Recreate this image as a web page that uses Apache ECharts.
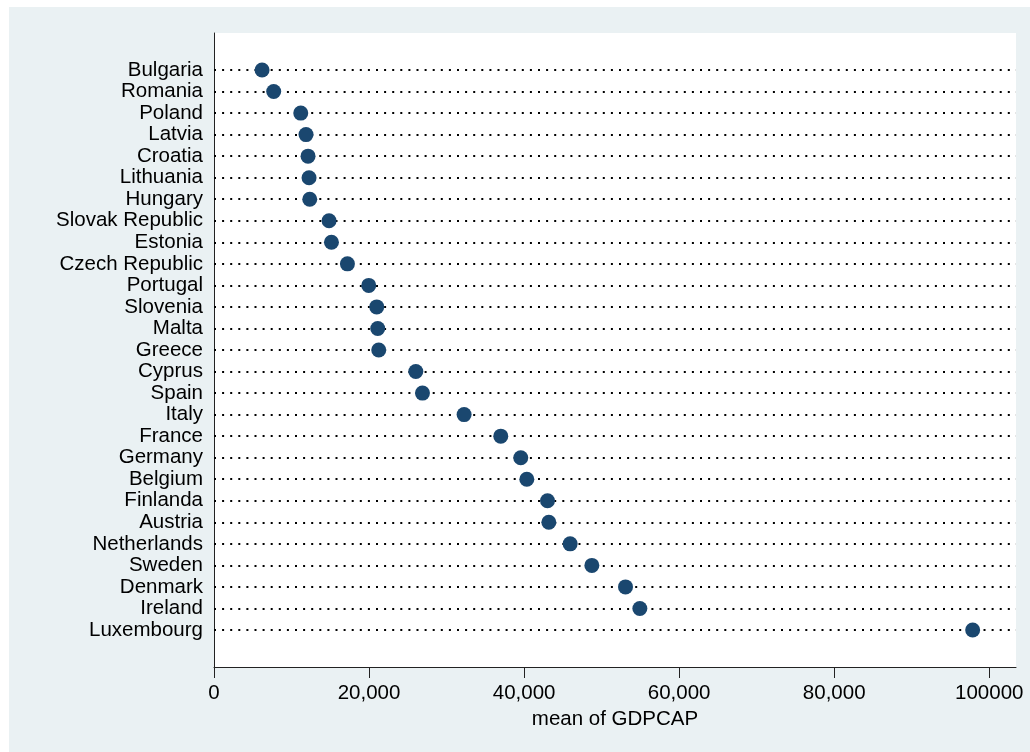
<!DOCTYPE html>
<html>
<head>
<meta charset="utf-8">
<script src="https://cdn.jsdelivr.net/npm/echarts@6/dist/echarts.min.js"></script>
<style>
html,body{margin:0;padding:0;background:#fff;}
#chart{width:1030px;height:752px;}
</style>
</head>
<body>
<div id="chart"></div>
<script>
const countries = ["Bulgaria","Romania","Poland","Latvia","Croatia","Lithuania","Hungary","Slovak Republic","Estonia","Czech Republic","Portugal","Slovenia","Malta","Greece","Cyprus","Spain","Italy","France","Germany","Belgium","Finlanda","Austria","Netherlands","Sweden","Denmark","Ireland","Luxembourg"];
const gdpcap = [6200,7700,11190,11870,12130,12260,12350,14840,15150,17210,19960,20990,21120,21250,26030,26890,32260,36990,39570,40350,43020,43190,45940,48740,53080,54930,97860];
const xTicks = [0,20000,40000,60000,80000,100000];
const xLabels = ["0","20,000","40,000","60,000","80,000","100000"];
const axisTitle = "mean of GDPCAP";

const FONT = '"Liberation Sans", Arial, Helvetica, sans-serif';
const chart = echarts.init(document.getElementById('chart'), null, {renderer:'canvas'});
const pad = 1.718;
const option = {
  backgroundColor: '#ffffff',
  animation: false,
  graphic: [{
    type: 'rect', z: -10, silent: true,
    shape: {x: 9, y: 7, width: 1030, height: 752},
    style: {fill: '#EAF1F3'}
  }],
  grid: {left: 214, right: 14, top: 33, bottom: 85, show: true, backgroundColor: '#ffffff', borderWidth: 0, containLabel: false},
  xAxis: {
    type: 'value', min: 0, max: 103450, position: 'bottom',
    name: axisTitle, nameLocation: 'middle', nameGap: 38,
    nameTextStyle: {fontFamily: FONT, fontSize: 20.5, color: '#000'},
    axisLine: {show: true, onZero: false, lineStyle: {color: '#222', width: 1}},
    axisTick: {show: true, length: 11, lineStyle: {color: '#222'}, customValues: xTicks},
    axisLabel: {fontFamily: FONT, fontSize: 20.5, color: '#000', margin: 16, customValues: xTicks,
      formatter: v => { const i = xTicks.indexOf(v); return i >= 0 ? xLabels[i] : ''; }},
    splitLine: {show: false}
  },
  yAxis: {
    type: 'value', inverse: true, min: -pad, max: countries.length - 1 + pad, position: 'left',
    axisLine: {show: true, onZero: false, lineStyle: {color: '#222', width: 1}},
    axisTick: {show: false},
    axisLabel: {fontFamily: FONT, fontSize: 20.5, color: '#000', margin: 11,
      customValues: countries.map((c, i) => i),
      formatter: v => countries[Math.round(v)] || ''},
    splitLine: {show: false}
  },
  series: [{
    type: 'scatter',
    data: gdpcap.map((v, i) => [v, i]),
    symbol: 'circle', symbolSize: 15,
    itemStyle: {color: '#1a476f', opacity: 1},
    z: 5,
    markLine: {
      silent: true, symbol: ['none', 'none'], label: {show: false},
      lineStyle: {color: '#000', width: 2, type: [2, 6.1], dashOffset: 0, cap: 'butt'},
      emphasis: {disabled: true},
      data: countries.map((c, i) => ({yAxis: i}))
    }
  }]
};
chart.setOption(option);
</script>
</body>
</html>
